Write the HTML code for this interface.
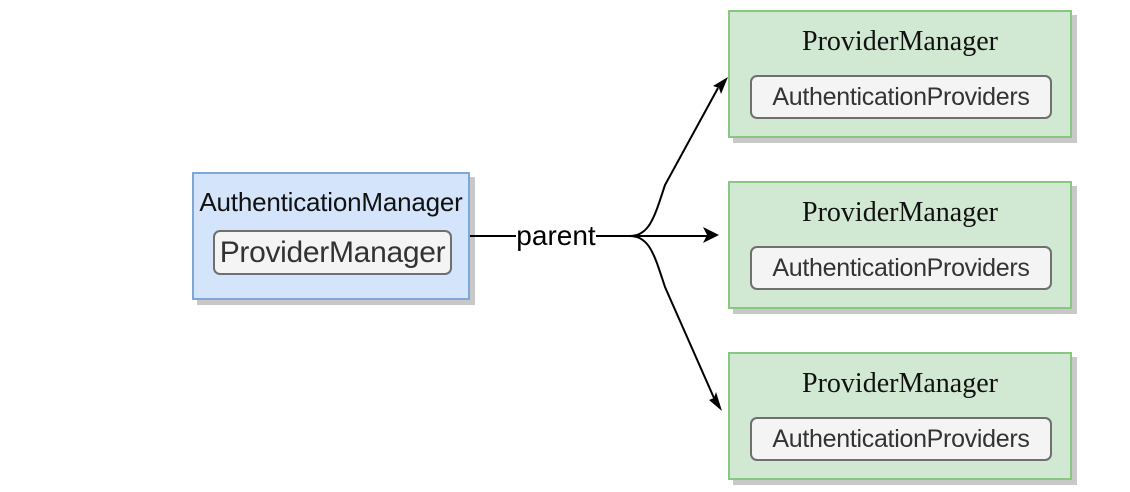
<!DOCTYPE html>
<html><head><style>
body{margin:0;width:1130px;height:492px;background:#fff;position:relative;overflow:hidden;font-family:"Liberation Sans",sans-serif}
.b{position:absolute;box-sizing:border-box;box-shadow:5px 5px 0 #c8c8c8}
.blue{background:#d4e5fb;border:2px solid #7ea6d8}
.green{background:#d1e8d2;border:2px solid #88c682}
.in{position:absolute;box-sizing:border-box;background:#f4f4f4;border:2px solid #6f6f6f;border-radius:7px;text-align:center;color:#333;white-space:nowrap}
.t{position:absolute;left:0;right:0;text-align:center;color:#111;white-space:nowrap}
</style></head><body>
<div class="b blue" style="left:192px;top:172px;width:278px;height:128px">
<div class="t" style="top:13px;font-size:26px;letter-spacing:-0.2px">AuthenticationManager</div>
<div class="in" style="left:19px;top:56px;width:239px;height:45px;font-size:30px;line-height:41px;letter-spacing:-0.3px">ProviderManager</div>
</div>
<div class="b green" style="left:728px;top:10px;width:344px;height:128px">
<div class="t" style="top:14px;font-size:28px;font-family:'Liberation Serif',serif">ProviderManager</div>
<div class="in" style="left:20px;top:63px;width:302px;height:44px;font-size:25px;line-height:40px;letter-spacing:-0.3px">AuthenticationProviders</div>
</div>
<div class="b green" style="left:728px;top:181px;width:344px;height:128px">
<div class="t" style="top:14px;font-size:28px;font-family:'Liberation Serif',serif">ProviderManager</div>
<div class="in" style="left:20px;top:63px;width:302px;height:44px;font-size:25px;line-height:40px;letter-spacing:-0.3px">AuthenticationProviders</div>
</div>
<div class="b green" style="left:728px;top:352px;width:344px;height:128px">
<div class="t" style="top:14px;font-size:28px;font-family:'Liberation Serif',serif">ProviderManager</div>
<div class="in" style="left:20px;top:63px;width:302px;height:44px;font-size:25px;line-height:40px;letter-spacing:-0.3px">AuthenticationProviders</div>
</div>
<svg width="1130" height="492" style="position:absolute;left:0;top:0">
<g stroke="#000" stroke-width="2" fill="none">
<path d="M470 236 H516 M596 236 H630"/>
<path d="M630 236 C650 236 655 215 665 185 L718 88"/>
<path d="M630 236 H708"/>
<path d="M630 236 C650 236 655 257 665 287 L714 398"/>
</g>
<g fill="#000">
<path d="M728 77 L713 86 L719 88 L721 94 Z"/>
<path d="M719 235 L703 227 L707 235 L703 243 Z"/>
<path d="M722 411 L709 400 L714 398 L716 392 Z"/>
</g>
<text x="556" y="245" font-size="28" text-anchor="middle" font-family="Liberation Sans">parent</text>
</svg>
</body></html>
